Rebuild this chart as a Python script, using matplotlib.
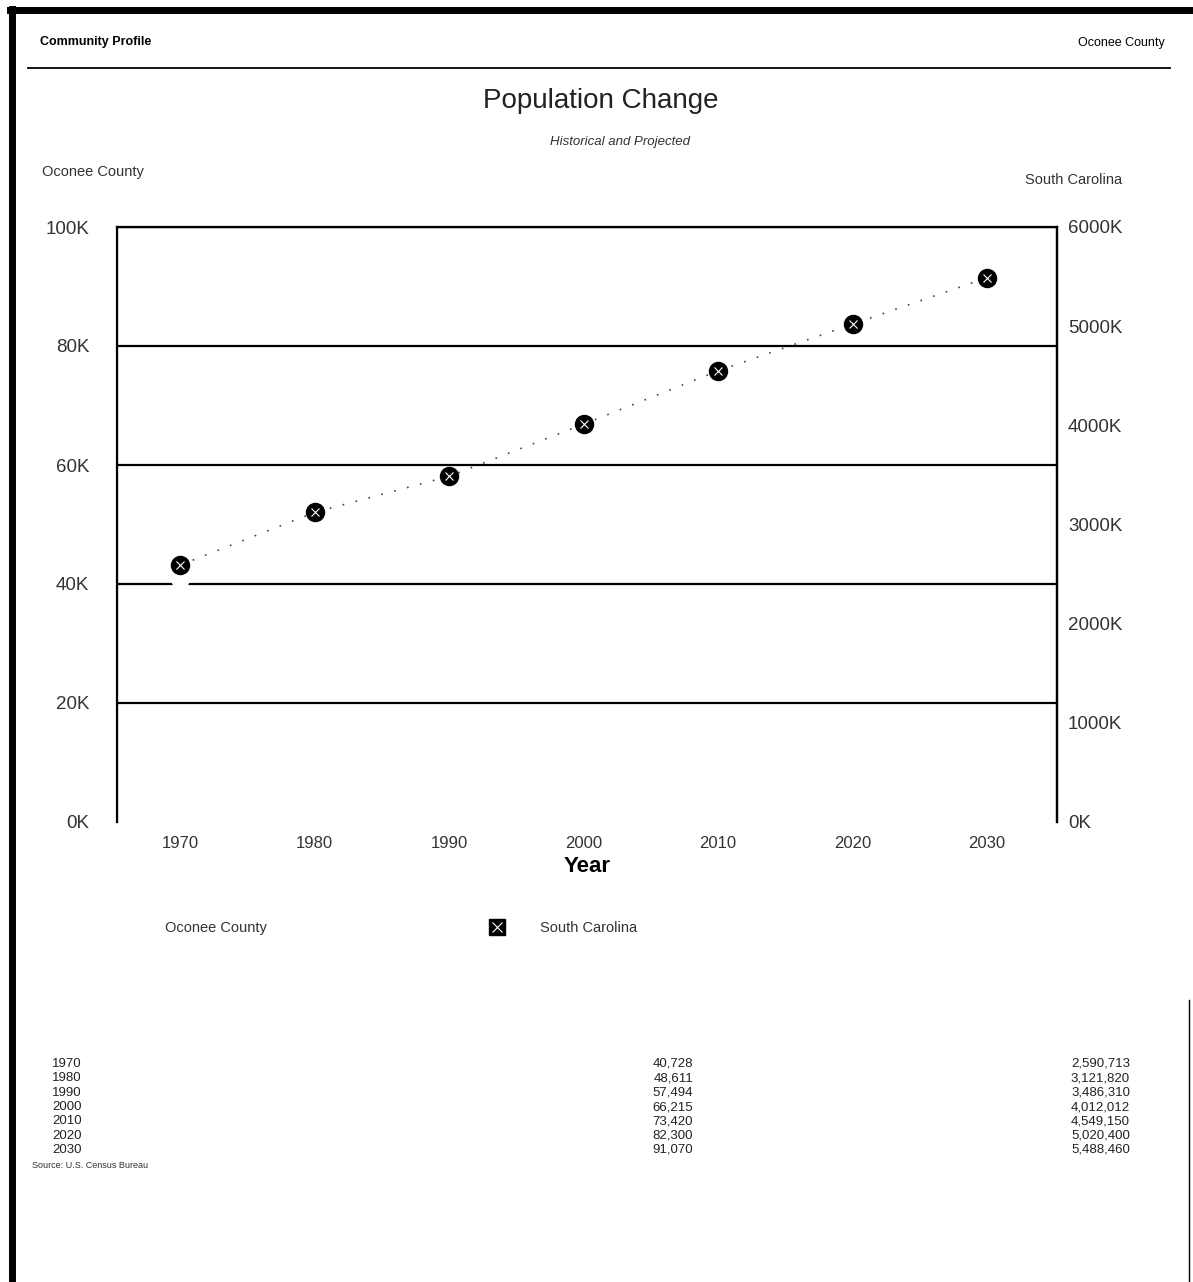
#!/usr/bin/env python

"""
Population change chart: Oconee County vs South Carolina, 1970-2030
"""

import numpy as np
import matplotlib.pyplot as plt
from matplotlib.lines import Line2D
from matplotlib.ticker import FuncFormatter

years = [1970, 1980, 1990, 2000, 2010, 2020, 2030]
oconee = [40728, 48611, 57494, 66215, 73420, 82300, 91070]
south_carolina = [2590713, 3121820, 3486310, 4012012, 4549150, 5020400, 5488460]

left_ticks = [0, 20000, 40000, 60000, 80000, 100000]
right_ticks = [0, 1000000, 2000000, 3000000, 4000000, 5000000, 6000000]

W, H = 1193, 1282
plt.rcParams['font.family'] = ['Liberation Sans', 'DejaVu Sans']
fig = plt.figure(figsize=(W / 100, H / 100), dpi=100)
fig.patch.set_facecolor('white')


def px(x, y):
    # pixel position on the page -> figure fraction
    return x / W, 1 - y / H


def kfmt(v, pos):
    return "%dK" % round(v / 1000)


# page frame
fig.add_artist(Line2D([10 / W, 1.0], [1 - 10 / H, 1 - 10 / H], color='black', lw=5))
fig.add_artist(Line2D([12 / W, 12 / W], [0, 1 - 9 / H], color='black', lw=5))
fig.add_artist(Line2D([1189 / W, 1189 / W], [0, 1 - 1000 / H], color='black', lw=1))
fig.add_artist(Line2D([28 / W, 1170 / W], [1 - 68 / H, 1 - 68 / H], color='black', lw=1.3))

fig.text(*px(40, 42), "Community Profile", fontsize=9, fontweight='bold', va='center')
fig.text(*px(1165, 43), "Oconee County", fontsize=9, ha='right', va='center')
fig.text(*px(601, 101), "Population Change", fontsize=20, ha='center', va='center', color='#222')
fig.text(*px(620, 142), "Historical and Projected", fontsize=9.5, style='italic', ha='center',
         va='center', color='#333')
fig.text(*px(42, 172), "Oconee County", fontsize=10.5, va='center', color='#333')
fig.text(*px(1122, 180), "South Carolina", fontsize=10.5, ha='right', va='center', color='#333')

ax = fig.add_axes([117 / W, 1 - 822 / H, (1057 - 117) / W, (822 - 227) / H])
ax.set_xlim(1965.3, 2035.2)
ax.set_ylim(0, 100000)
ax.set_yticks(left_ticks)
ax.yaxis.set_major_formatter(FuncFormatter(kfmt))
ax.set_xticks(years)
ax.tick_params('both', length=0, labelcolor='#333')
ax.tick_params('y', pad=20, labelsize=13.5)
ax.tick_params('x', pad=10, labelsize=12)
for g in left_ticks[1:]:
    ax.axhline(g, color='black', lw=1.6, zorder=1)
ax.spines['bottom'].set_visible(False)
for s in ['left', 'right', 'top']:
    ax.spines[s].set_linewidth(1.6)
ax.set_xlabel("Year", fontsize=16, fontweight='bold', labelpad=4)

# county series drawn in white, as on the original page
ax.plot(years, oconee, linestyle='none', marker='o', markersize=12,
        markerfacecolor='white', markeredgecolor='white', zorder=2)

ax2 = ax.twinx()
ax2.set_ylim(0, 6000000)
ax2.set_yticks(right_ticks)
ax2.yaxis.set_major_formatter(FuncFormatter(kfmt))
ax2.tick_params('y', length=0, labelsize=13.5, labelcolor='#333', pad=8)
ax2.spines['bottom'].set_visible(False)
ax2.spines['right'].set_linewidth(1.6)
ax2.plot(years, south_carolina, linestyle=(0, (1, 7)), color='#444', lw=1.2, zorder=3)
ax2.plot(years, south_carolina, linestyle='none', marker='o', markersize=13,
         markerfacecolor='black', markeredgecolor='black', zorder=4)
ax2.plot(years, south_carolina, linestyle='none', marker='x', markersize=6,
         markeredgecolor='white', markeredgewidth=0.8, zorder=5)

# legend row
fig.text(*px(165, 928), "Oconee County", fontsize=10.5, va='center', color='#333')
lx, ly = px(497, 927)
fig.add_artist(Line2D([lx], [ly], marker='s', markersize=11, color='black'))
fig.add_artist(Line2D([lx], [ly], marker='x', markersize=7, markeredgecolor='white',
                      markeredgewidth=0.8))
fig.text(*px(540, 928), "South Carolina", fontsize=10.5, va='center', color='#333')

# data table
row_y = np.linspace(1064, 1150, len(years))
for yr, oc, sc, ry in zip(years, oconee, south_carolina, row_y):
    fig.text(*px(52, ry), str(yr), fontsize=9.5, va='center', color='#222')
    fig.text(*px(693, ry), "{:,}".format(oc), fontsize=9.5, ha='right', va='center', color='#222')
    fig.text(*px(1130, ry), "{:,}".format(sc), fontsize=9.5, ha='right', va='center', color='#222')
fig.text(*px(32, 1165), "Source: U.S. Census Bureau", fontsize=6.5, va='center', color='#333')

fig.savefig('out.png', dpi=100)
plt.close('all')
